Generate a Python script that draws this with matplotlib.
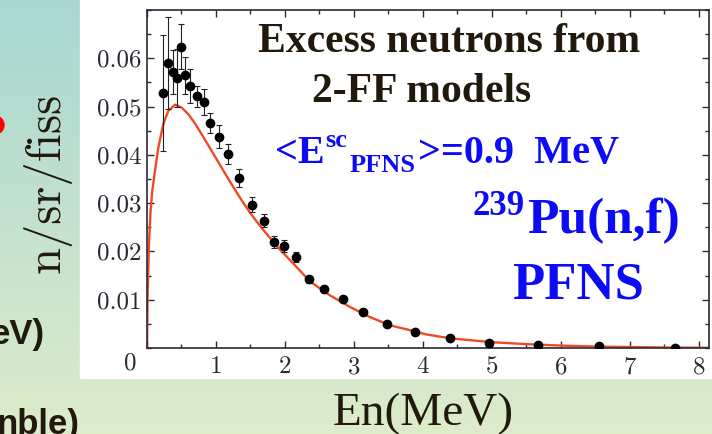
import numpy as np
import matplotlib
matplotlib.use('Agg')
import matplotlib.pyplot as plt
from matplotlib.patches import Rectangle, Circle
from matplotlib.ticker import MultipleLocator

# data points (En in MeV, n/sr/fiss)
pts_x = [0.236, 0.309, 0.372, 0.430, 0.488, 0.555, 0.623, 0.729, 0.826, 0.917,
         1.041, 1.174, 1.330, 1.517, 1.700, 1.845, 1.990, 2.159, 2.355, 2.570,
         2.836, 3.130, 3.480, 3.890, 4.391, 4.961, 5.671, 6.551, 7.652]
pts_y = [0.0528, 0.0591, 0.0572, 0.0559, 0.0624, 0.0565, 0.0542, 0.0521, 0.0509, 0.0466,
         0.0438, 0.0402, 0.0352, 0.0297, 0.0264, 0.0220, 0.0211, 0.0188, 0.0142, 0.0123,
         0.0101, 0.0075, 0.0049, 0.0034, 0.0021, 0.0011, 0.0007, 0.0004, 0.0001]
pts_err = [0.0120, 0.0095, 0.0045, 0.0060, 0.0047, 0.0038, 0.0035, 0.0022, 0.0027, 0.0021,
           0.0024, 0.0021, 0.0019, 0.0016, 0.0013, 0.0012, 0.0012, 0.0010, 0.0008, 0.0006,
           0.0005, 0.0004, 0.0003, 0.0002, 0.0002, 0.0001, 0.0001, 0.0001, 0.0001]

# red model curve
curve_x = [0.0, 0.01, 0.03, 0.05, 0.077, 0.116, 0.164, 0.236, 0.309, 0.406,
           0.502, 0.6, 0.7, 0.8, 0.9, 1.0, 1.1, 1.2, 1.3, 1.4,
           1.5, 1.6, 1.7, 1.8, 1.9, 2.0, 2.1, 2.362, 2.652, 2.942,
           3.232, 3.522, 3.81, 4.05, 4.4, 5.0, 5.5, 6.0, 6.5, 7.0,
           7.5, 8.15]
curve_y = [0.0, 0.012, 0.022, 0.028, 0.0326, 0.0367, 0.0415, 0.0464, 0.0491, 0.0504,
           0.0498, 0.0484, 0.0464, 0.0441, 0.0417, 0.0393, 0.0369, 0.0345, 0.0322, 0.0300,
           0.0279, 0.0260, 0.0242, 0.0225, 0.0208, 0.0193, 0.0178, 0.0138, 0.0109, 0.0085,
           0.0064, 0.0047, 0.0037, 0.0028, 0.0020, 0.0012, 0.0008, 0.0005, 0.0003, 0.0002,
           0.0001, 0.00005]

xticks = [0, 1, 2, 3, 4, 5, 6, 7, 8]
xticklabels = ['', '1', '2', '3', '4', '5', '6', '7', '8']
yticks = [0.01, 0.02, 0.03, 0.04, 0.05, 0.06]
yticklabels = ['0.01', '0.02', '0.03', '0.04', '0.05', '0.06']

dark = '#21190d'
blue = '#0b0bf5'
tick_col = '#2a2a35'

fig = plt.figure(figsize=(7.12, 4.34), dpi=100)

# background (slide) in pixel coordinates
bg = fig.add_axes([0, 0, 1, 1])
bg.set_xlim(0, 712)
bg.set_ylim(434, 0)
bg.axis('off')
top_c = np.array([0xa8, 0xd7, 0xd3]) / 255
bot_c = np.array([0xdd, 0xec, 0xc9]) / 255
t = np.linspace(0, 1, 256)[:, None]
grad = (top_c[None, :] * (1 - t) + bot_c[None, :] * t)[:, None, :]
bg.imshow(grad, extent=[0, 712, 434, 0], aspect='auto')
bg.add_patch(Rectangle((80, 0), 640, 378, color='white', zorder=2))
bg.add_patch(Circle((-5, 125), 9, color='red', zorder=2))

# main plot
ax = fig.add_axes([147 / 712, 1 - 348 / 434, (709 - 147) / 712, (348 - 10) / 434])
ax.patch.set_visible(False)
ax.plot(curve_x, curve_y, color='#f04a25', linewidth=1.7, zorder=2)
ax.errorbar(pts_x, pts_y, yerr=pts_err, fmt='o', color='black', markersize=6,
            ecolor='#222222', elinewidth=0.8, capsize=2.5, capthick=0.8, zorder=3)
ax.set_xlim(0, 8.145)
ax.set_ylim(0, 0.07)
ax.set_xticks(xticks)
ax.set_xticklabels(xticklabels)
ax.set_yticks(yticks)
ax.set_yticklabels(yticklabels)
ax.xaxis.set_minor_locator(MultipleLocator(0.5))
ax.yaxis.set_minor_locator(MultipleLocator(0.005))
ax.tick_params(which='both', direction='in', top=True, right=True, color=tick_col, width=1)
ax.tick_params(which='major', length=5)
ax.tick_params(which='minor', length=3)
ax.tick_params(axis='y', pad=4)
ax.tick_params(axis='x', pad=6)
for lab in ax.get_xticklabels() + ax.get_yticklabels():
    lab.set_fontfamily('cmr10')
    lab.set_fontsize(18)
    lab.set_color(tick_col)
for s in ax.spines.values():
    s.set_color('#2a2a3a')
    s.set_linewidth(1.2)

tr = bg.transData
fig.text(130.7, 363, '0', transform=tr, fontfamily='cmr10', fontsize=18, color=tick_col,
         ha='center', va='center')

# axis titles
fig.text(47, 183, 'n/sr/fiss', transform=tr, fontfamily='cmr10', fontsize=35, color=dark,
         rotation=90, ha='center', va='center')
fig.text(423, 425, 'En(MeV)', transform=tr, fontfamily='Liberation Serif', fontsize=34,
         color=dark, ha='center', va='baseline')

# annotations
fig.text(258, 52, 'Excess neutrons from', transform=tr, fontfamily='Liberation Serif',
         fontweight='bold', fontsize=30, color=dark, ha='left', va='baseline')
fig.text(312, 101.7, '2-FF models', transform=tr, fontfamily='Liberation Serif',
         fontweight='bold', fontsize=30, color=dark, ha='left', va='baseline')

bkw = dict(transform=tr, fontfamily='Liberation Serif', fontweight='bold', color=blue,
           ha='left', va='baseline')
fig.text(275, 163.3, '<E', fontsize=29, **bkw)
fig.text(325, 146.7, 'sc', fontsize=19, **bkw)
fig.text(350, 171.7, 'PFNS', fontsize=19, **bkw)
fig.text(418, 163.3, '>=0.9  MeV', fontsize=29, **bkw)
fig.text(472, 215, '239', fontsize=25, **bkw)
fig.text(526.7, 233.3, 'Pu(n,f)', fontsize=37, **bkw)
fig.text(511.7, 298.3, 'PFNS', fontsize=38, **bkw)

# slide text cut off at the left edge
fig.text(45, 344, 'eV)', transform=tr, fontfamily='Liberation Sans', fontweight='bold',
         fontsize=25, color=dark, ha='right', va='baseline')
fig.text(80, 434, 'nble)', transform=tr, fontfamily='Liberation Sans', fontweight='bold',
         fontsize=25, color=dark, ha='right', va='baseline')

fig.savefig('out.png', dpi=100)
